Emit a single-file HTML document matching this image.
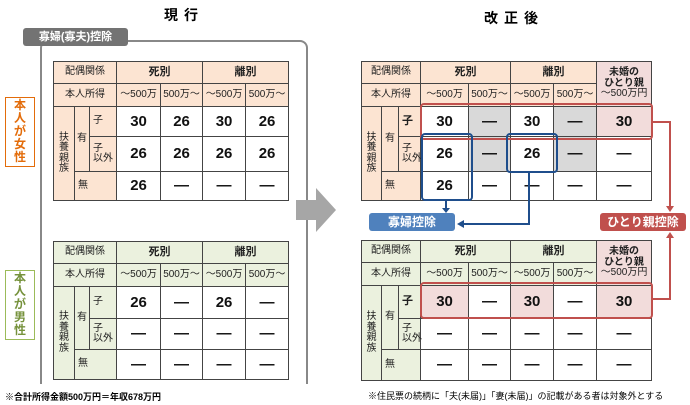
<!DOCTYPE html><html><head><meta charset="utf-8"><style>
body{margin:0;width:690px;height:405px;background:#fff;position:relative;overflow:hidden;font-family:"Liberation Sans","Noto Sans CJK JP",sans-serif;}
.a{position:absolute}
table{position:absolute;border-collapse:collapse;table-layout:fixed;}
td{border:1px solid #444;padding:0;text-align:center;font-size:10px;color:#222;line-height:1.05}
td.n{font-size:15px;font-weight:bold;color:#111}
.p td.h{background:#fce4d2}.g td.h{background:#ebf1de}
td.gy{background:#d9d9d9}td.pk{background:#f2dcdb}
td.b{font-weight:bold;font-size:11px}
td.l{text-align:left;padding-left:3px;white-space:nowrap;overflow:visible}
.lab{color:#fff;font-weight:bold;font-size:12px;text-align:center;border-radius:3px}
</style></head><body>
<div class="a" style="left:164px;top:5px;font-weight:bold;font-size:14px;letter-spacing:6px">現行</div>
<div class="a" style="left:484px;top:8px;font-weight:bold;font-size:14px;letter-spacing:6px">改正後</div>
<div class="a" style="left:40px;top:40px;width:264px;height:342px;border:2px solid #888;border-radius:8px;border-bottom:none;border-bottom-left-radius:0;border-bottom-right-radius:0"></div>
<div class="a lab" style="left:23px;top:28px;width:105px;height:18px;line-height:18px;background:#737373;font-size:11px">寡婦(寡夫)控除</div>
<div class="a" style="left:5px;top:97px;width:28px;height:67px;border:1.5px solid #e36c0a;color:#e36c0a;font-weight:bold;font-size:12px;text-align:center;line-height:13px;padding-top:1px">本<br>人<br>が<br>女<br>性</div>
<div class="a" style="left:5px;top:270px;width:28px;height:67px;border:1.5px solid #9bbb59;color:#76923c;font-weight:bold;font-size:12px;text-align:center;line-height:13px;padding-top:1px">本<br>人<br>が<br>男<br>性</div>
<svg class="a" style="left:296px;top:188px" width="42" height="44"><polygon points="0,12 20,12 20,0 40,22 20,44 20,32 0,32" fill="#a6a6a6"/></svg>

<table class="p" style="left:53px;top:61px;width:235px">
<colgroup><col style="width:21px"><col style="width:15px"><col style="width:27px"><col style="width:44px"><col style="width:42px"><col style="width:43px"><col style="width:43px"></colgroup>
<tr style="height:22px"><td class="h" colspan="3">配偶関係</td><td class="h b" colspan="2">死別</td><td class="h b" colspan="2">離別</td></tr>
<tr style="height:23px"><td class="h" colspan="3">本人所得</td><td class="h">～500万</td><td class="h">500万～</td><td class="h">～500万</td><td class="h">500万～</td></tr>
<tr style="height:30px"><td class="h" rowspan="3">扶<br>養<br>親<br>族</td><td class="h" rowspan="2">有</td><td class="h l">子</td><td class="n">30</td><td class="n">26</td><td class="n">30</td><td class="n">26</td></tr>
<tr style="height:35px"><td class="h l">子<br>以外</td><td class="n">26</td><td class="n">26</td><td class="n">26</td><td class="n">26</td></tr>
<tr style="height:29px"><td class="h l" colspan="2">無</td><td class="n">26</td><td class="n">—</td><td class="n">—</td><td class="n">—</td></tr>
</table>
<table class="g" style="left:53px;top:241px;width:235px">
<colgroup><col style="width:21px"><col style="width:15px"><col style="width:27px"><col style="width:44px"><col style="width:42px"><col style="width:43px"><col style="width:43px"></colgroup>
<tr style="height:22px"><td class="h" colspan="3">配偶関係</td><td class="h b" colspan="2">死別</td><td class="h b" colspan="2">離別</td></tr>
<tr style="height:23px"><td class="h" colspan="3">本人所得</td><td class="h">～500万</td><td class="h">500万～</td><td class="h">～500万</td><td class="h">500万～</td></tr>
<tr style="height:32px"><td class="h" rowspan="3">扶<br>養<br>親<br>族</td><td class="h" rowspan="2">有</td><td class="h l">子</td><td class="n">26</td><td class="n">—</td><td class="n">26</td><td class="n">—</td></tr>
<tr style="height:31px"><td class="h l">子<br>以外</td><td class="n">—</td><td class="n">—</td><td class="n">—</td><td class="n">—</td></tr>
<tr style="height:30px"><td class="h l" colspan="2">無</td><td class="n">—</td><td class="n">—</td><td class="n">—</td><td class="n">—</td></tr>
</table>
<table class="p" style="left:361px;top:61px;width:290px">
<colgroup><col style="width:20px"><col style="width:17px"><col style="width:22px"><col style="width:48px"><col style="width:42px"><col style="width:43px"><col style="width:43px"><col style="width:55px"></colgroup>
<tr style="height:22px"><td class="h" colspan="3">配偶関係</td><td class="h b" colspan="2">死別</td><td class="h b" colspan="2">離別</td><td class="pk b" rowspan="2" style="font-size:10px">未婚の<br>ひとり親<br><span style="font-weight:normal">～500万円</span></td></tr>
<tr style="height:23px"><td class="h" colspan="3">本人所得</td><td class="h">～500万</td><td class="h">500万～</td><td class="h">～500万</td><td class="h">500万～</td></tr>
<tr style="height:30px"><td class="h" rowspan="3">扶<br>養<br>親<br>族</td><td class="h" rowspan="2">有</td><td class="h l b">子</td><td class="n">30</td><td class="n gy">—</td><td class="n">30</td><td class="n gy">—</td><td class="n pk">30</td></tr>
<tr style="height:35px"><td class="h l">子<br>以外</td><td class="n">26</td><td class="n gy">—</td><td class="n">26</td><td class="n gy">—</td><td class="n">—</td></tr>
<tr style="height:29px"><td class="h l" colspan="2">無</td><td class="n">26</td><td class="n">—</td><td class="n">—</td><td class="n">—</td><td class="n">—</td></tr>
</table>
<table class="g" style="left:361px;top:240px;width:290px">
<colgroup><col style="width:20px"><col style="width:17px"><col style="width:22px"><col style="width:48px"><col style="width:42px"><col style="width:43px"><col style="width:43px"><col style="width:55px"></colgroup>
<tr style="height:22px"><td class="h" colspan="3">配偶関係</td><td class="h b" colspan="2">死別</td><td class="h b" colspan="2">離別</td><td class="pk b" rowspan="2" style="font-size:10px">未婚の<br>ひとり親<br><span style="font-weight:normal">～500万円</span></td></tr>
<tr style="height:23px"><td class="h" colspan="3">本人所得</td><td class="h">～500万</td><td class="h">500万～</td><td class="h">～500万</td><td class="h">500万～</td></tr>
<tr style="height:33px"><td class="h" rowspan="3">扶<br>養<br>親<br>族</td><td class="h" rowspan="2">有</td><td class="h l b">子</td><td class="n pk">30</td><td class="n">—</td><td class="n pk">30</td><td class="n">—</td><td class="n pk">30</td></tr>
<tr style="height:31px"><td class="h l">子<br>以外</td><td class="n">—</td><td class="n">—</td><td class="n">—</td><td class="n">—</td><td class="n">—</td></tr>
<tr style="height:31px"><td class="h l" colspan="2">無</td><td class="n">—</td><td class="n">—</td><td class="n">—</td><td class="n">—</td><td class="n">—</td></tr>
</table>

<svg class="a" style="left:0;top:0" width="690" height="405">
<rect x="421" y="104" width="231" height="35" rx="3" fill="none" stroke="#c0504d" stroke-width="2"/>
<rect x="421" y="283" width="231" height="35" rx="3" fill="none" stroke="#c0504d" stroke-width="2"/>
<rect x="422" y="134" width="50" height="66" rx="3" fill="none" stroke="#1f4e8c" stroke-width="2"/>
<rect x="507" y="134" width="50" height="38" rx="3" fill="none" stroke="#1f4e8c" stroke-width="2"/>
<path d="M446 200V210" stroke="#1f4e8c" stroke-width="2" fill="none"/>
<polygon points="442,208 450,208 446,213" fill="#1f4e8c"/>
<path d="M529 172V224H462" stroke="#1f4e8c" stroke-width="2" fill="none"/>
<polygon points="464,220 464,228 457,224" fill="#1f4e8c"/>
<path d="M652 122H670V207" stroke="#c0504d" stroke-width="2" fill="none"/>
<polygon points="666,206 674,206 670,212" fill="#c0504d"/>
<path d="M652 299H670V237" stroke="#c0504d" stroke-width="2" fill="none"/>
<polygon points="666,238 674,238 670,232" fill="#c0504d"/>
</svg>
<div class="a lab" style="left:369px;top:213px;width:86px;height:18px;line-height:18px;background:#4f81bd">寡婦控除</div>
<div class="a lab" style="left:600px;top:213px;width:86px;height:18px;line-height:18px;background:#c0504d">ひとり親控除</div>
<div class="a" style="left:5px;top:390px;font-size:9px;font-weight:bold">※合計所得金額500万円＝年収678万円</div>
<div class="a" style="left:368px;top:389px;font-size:9px">※住民票の続柄に「夫(未届)」「妻(未届)」の記載がある者は対象外とする</div>
</body></html>
